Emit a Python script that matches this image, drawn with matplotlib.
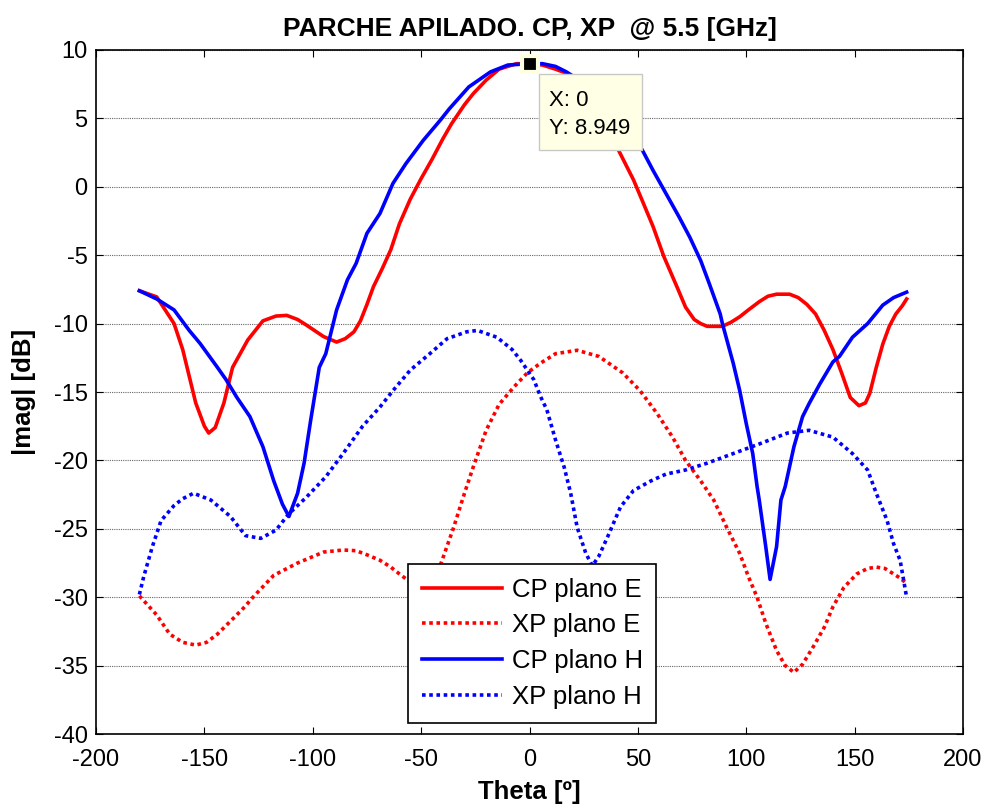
import numpy as np
import matplotlib.pyplot as plt
from matplotlib.patches import Rectangle

plt.rcParams['font.family'] = ['Liberation Sans', 'DejaVu Sans']
plt.rcParams['axes.unicode_minus'] = False

# CP plano E
th_cpe = [-180, -172, -164, -160, -154, -150, -148, -145, -141, -137, -130, -123, -117, -112,
          -107, -103, -95, -89, -85, -81, -78, -75, -72, -68, -64, -60, -55, -50, -45, -40,
          -36, -30, -26, -20, -14, -6, 0, 6, 12, 17, 22, 28, 34, 41, 48, 52, 57, 62, 68, 72,
          76, 79, 82, 86, 89, 93, 97, 101, 106, 110, 114, 120, 124, 128, 132, 136, 140, 144,
          148, 152, 155, 157, 160, 163, 166, 169, 172, 174]
cp_e = [-7.6, -8.05, -10.0, -11.9, -15.8, -17.5, -18.0, -17.6, -15.8, -13.2, -11.2, -9.8, -9.45, -9.4,
        -9.7, -10.1, -10.95, -11.35, -11.1, -10.6, -9.8, -8.6, -7.3, -6.0, -4.6, -2.7, -0.9, 0.6, 2.0, 3.5,
        4.6, 6.0, 6.8, 7.8, 8.6, 9.0, 9.0, 8.9, 8.6, 8.3, 7.6, 6.3, 4.7, 2.7, 0.5, -1.0, -2.9, -5.1, -7.3, -8.8,
        -9.7, -10.0, -10.2, -10.2, -10.2, -9.9, -9.5, -9.0, -8.4, -8.0, -7.85, -7.85, -8.1, -8.6, -9.3, -10.5, -11.9, -13.6,
        -15.4, -16.0, -15.8, -15.1, -13.2, -11.5, -10.2, -9.3, -8.7, -8.2]

# XP plano E
th_xpe = [-180, -176, -172, -166, -160, -154, -149, -144, -137, -132, -127, -118, -107, -95, -86,
          -80, -75, -69, -64, -60, -55, -50, -46, -41, -35, -30, -26, -20, -14, -7, -1, 5, 12,
          22, 32, 43, 51, 59, 66, 72, 79, 85, 91, 97, 101, 105, 109, 114, 118, 122, 126, 131,
          136, 140, 145, 151, 156, 160, 164, 168, 171, 174]
xp_e = [-29.9, -30.6, -31.3, -32.7, -33.3, -33.5, -33.3, -32.7, -31.6, -30.8, -29.9, -28.4, -27.5, -26.7, -26.55,
        -26.6, -26.9, -27.3, -27.8, -28.3, -28.9, -29.2, -28.8, -27.6, -24.9, -22.4, -20.5, -17.8, -15.9, -14.6, -13.6, -12.9, -12.2,
        -11.95, -12.4, -13.6, -14.9, -16.6, -18.3, -20.0, -21.5, -22.9, -24.9, -26.8, -28.5, -30.0, -31.9, -33.9, -35.0, -35.5, -34.9, -33.6,
        -32.2, -30.7, -29.3, -28.3, -27.9, -27.8, -27.9, -28.3, -28.6, -29.0]

# CP plano H
th_cph = [-180, -172, -164, -157, -152, -144, -140, -135, -129, -123, -118, -114, -111, -107,
          -104, -101, -97, -94, -89, -84, -80, -75, -69, -63, -57, -49, -41, -37, -28, -18,
          -10, 0, 6, 12, 17, 22, 28, 34, 40, 46, 52, 57, 63, 69, 74, 79, 83, 88, 89, 94, 97,
          100, 103, 105, 106, 109, 111, 114, 116, 118, 122, 126, 129, 134, 140, 143, 149,
          156, 163, 168, 174]
cp_h = [-7.6, -8.2, -9.0, -10.5, -11.45, -13.2, -14.1, -15.4, -16.8, -19.0, -21.5, -23.2, -24.1, -22.4,
        -20.2, -17.1, -13.2, -12.2, -9.0, -6.8, -5.6, -3.4, -1.95, 0.25, 1.7, 3.4, 4.9, 5.7, 7.3, 8.4,
        8.9, 9.0, 9.0, 8.8, 8.4, 7.9, 7.2, 6.3, 5.3, 4.1, 2.7, 1.2, -0.5, -2.2, -3.7, -5.4, -7.1, -9.3, -10.0, -12.9, -14.9,
        -17.3, -19.5, -21.9, -22.9, -26.3, -28.7, -26.3, -22.9, -21.9, -19.0, -16.8, -15.85, -14.4, -12.8, -12.4, -11.0,
        -10.0, -8.65, -8.1, -7.7]

# XP plano H
th_xph = [-180, -178, -174, -170, -164, -160, -155, -147, -138, -131, -124, -117, -111, -103, -94,
          -86, -77, -69, -63, -55, -46, -38, -29, -24, -15, -8, -4, -1, 2, 5, 8, 12, 16, 19,
          22, 26, 29, 32, 36, 42, 48, 56, 63, 72, 82, 94, 106, 119, 129, 140, 149, 156, 160,
          165, 168, 171, 174]
xp_h = [-29.8, -28.5, -26.3, -24.4, -23.3, -22.8, -22.4, -22.9, -24.1, -25.5, -25.7, -25.1, -23.9, -22.7, -21.2,
        -19.5, -17.5, -16.1, -14.9, -13.4, -12.2, -11.1, -10.6, -10.5, -11.0, -11.9, -12.7, -13.4, -14.1, -15.3, -16.3, -18.5, -20.5, -22.4,
        -24.9, -26.8, -27.7, -27.0, -25.6, -23.4, -22.2, -21.5, -21.0, -20.7, -20.2, -19.5, -18.8, -18.0, -17.8, -18.3, -19.5, -20.7, -22.4,
        -24.4, -26.1, -27.3, -30.0]

# dato marcado
tip_x = 0
tip_y = 8.949

fig = plt.figure(figsize=(9.9, 8.09), dpi=100)
ax = fig.add_axes([0.097, 0.0927, 0.8757, 0.8455])

ax.plot(th_cpe, cp_e, '-', color='r', lw=2.6, label='CP plano E')
ax.plot(th_xpe, xp_e, color='r', lw=2.6, linestyle=(0, (1, 1)), label='XP plano E')
ax.plot(th_cph, cp_h, '-', color='b', lw=2.6, label='CP plano H')
ax.plot(th_xph, xp_h, color='b', lw=2.6, linestyle=(0, (1, 1)), label='XP plano H')

# datatip estilo MATLAB
ax.plot(tip_x, tip_y, 's', color='k', markersize=11, markeredgecolor='#FFFFE1',
        markeredgewidth=3, zorder=6)
ax.add_patch(Rectangle((4.4, 2.68), 47.5, 5.56, facecolor='#FFFFE6', edgecolor='#C8C8C8',
                       lw=1, zorder=7))
ax.text(9.0, 5.9, 'X: %g' % tip_x, fontsize=16, va='baseline', ha='left', zorder=8)
ax.text(9.0, 3.86, 'Y: %.3f' % tip_y, fontsize=16, va='baseline', ha='left', zorder=8)

ax.set_xlim(-200, 200)
ax.set_ylim(-40, 10)
ax.set_xticks(np.arange(-200, 201, 50))
ax.set_yticks(np.arange(-40, 11, 5))
ax.yaxis.grid(True, color='#666666', lw=0.8, linestyle=(0, (1, 1)))
ax.tick_params(direction='in', top=True, right=True, length=5, labelsize=17)
ax.tick_params(axis='x', pad=11)
ax.tick_params(axis='y', pad=6)
for s in ax.spines.values():
    s.set_linewidth(1.2)

ax.set_title('PARCHE APILADO. CP, XP  @ 5.5 [GHz]', fontsize=19, fontweight='bold', pad=10)
ax.set_xlabel('Theta [º]', fontsize=18.5, fontweight='bold', labelpad=6)
ax.set_ylabel('|mag| [dB]', fontsize=18.5, fontweight='bold', labelpad=13)

leg = ax.legend(loc='lower left', bbox_to_anchor=(0.36, 0.0165, 0.286, 0.232), mode='expand',
                fontsize=18.5, fancybox=False, framealpha=1, edgecolor='k',
                handlelength=3.1, handletextpad=0.4, labelspacing=0.45, borderpad=0.55,
                borderaxespad=0)
leg.get_frame().set_linewidth(1.2)
leg.set_zorder(8)

plt.savefig('out.png', dpi=100)
